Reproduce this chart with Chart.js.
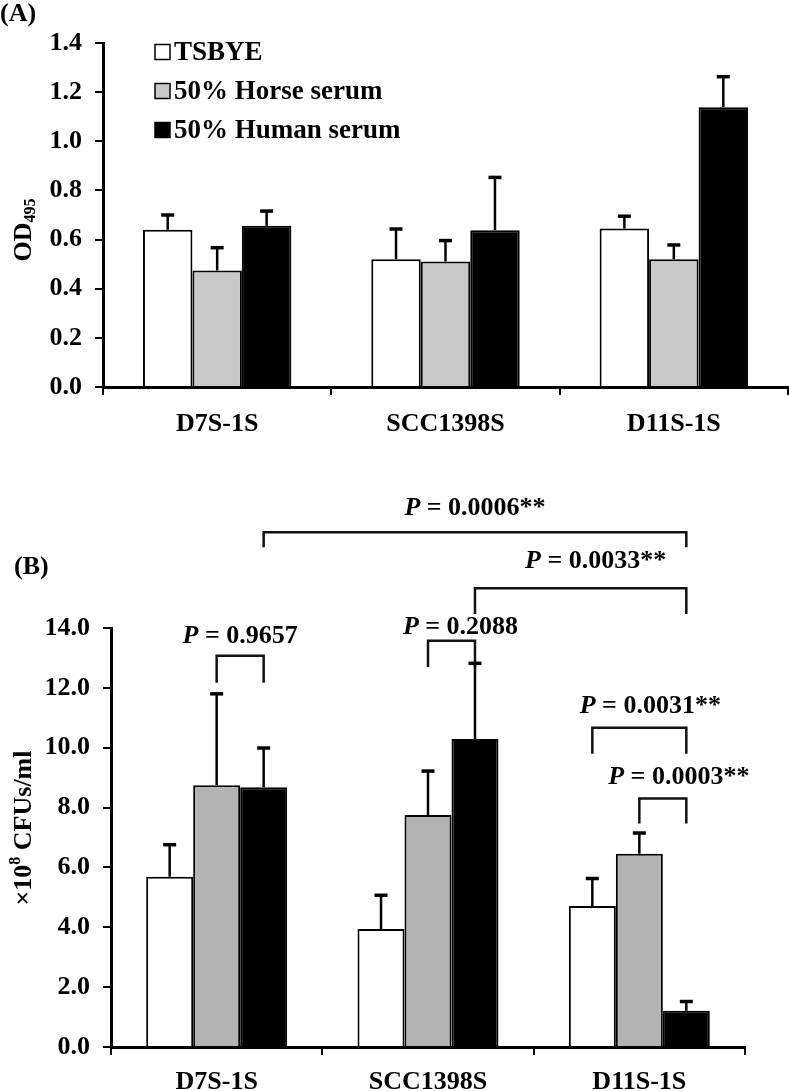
<!DOCTYPE html>
<html>
<head>
<meta charset="utf-8">
<script src="https://cdn.jsdelivr.net/npm/chart.js@4.4.0/dist/chart.umd.min.js"></script>
<style>
  html, body { margin: 0; padding: 0; background: #fff; }
  #wrapA { position: absolute; left: 0; top: 0; width: 789px; height: 450px; }
  #wrapB { position: absolute; left: 0; top: 450px; width: 789px; height: 641px; }
</style>
</head>
<body>
<div id="wrapA"><canvas id="chartA"></canvas></div>
<div id="wrapB"><canvas id="chartB"></canvas></div>
<script>
const strains = ["D7S-1S", "SCC1398S", "D11S-1S"];
const seriesNames = ["TSBYE", "50% Horse serum", "50% Human serum"];

// (A) biofilm, OD495
const odTsbye = [0.64, 0.52, 0.645];
const odTsbyeSd = [0.06, 0.123, 0.05];
const odHorse = [0.474, 0.511, 0.52];
const odHorseSd = [0.093, 0.085, 0.058];
const odHuman = [0.656, 0.638, 1.139];
const odHumanSd = [0.06, 0.215, 0.124];
const odTicks = [0, 0.2, 0.4, 0.6, 0.8, 1.0, 1.2, 1.4];

// (B) x10^8 CFUs/ml
const cfuTsbye = [5.69, 3.94, 4.71];
const cfuTsbyeSd = [1.07, 1.13, 0.92];
const cfuHorse = [8.75, 7.75, 6.46];
const cfuHorseSd = [3.05, 1.47, 0.69];
const cfuHuman = [8.68, 10.29, 1.21];
const cfuHumanSd = [1.31, 2.53, 0.31];
const cfuTicks = [0, 2, 4, 6, 8, 10, 12, 14];

// p-value brackets for (B): [dataset, category] ends, heights in y units
const pBrackets = [
  { p: "0.9657", stars: "", from: [1, 0], to: [2, 0], top: 13.07, leg: 12.17, textY: 13.73, dx: 0 },
  { p: "0.2088", stars: "", from: [1, 1], to: [2, 1], top: 13.57, leg: 12.7, textY: 14.02, dx: 9 },
  { p: "0.0006", stars: "**", from: [2, 0], to: [2, 2], top: 17.2, leg: 16.7, textY: 18.0, dx: 0 },
  { p: "0.0033", stars: "**", from: [2, 1], to: [2, 2], top: 15.33, leg: 14.47, textY: 16.23, dx: 15 },
  { p: "0.0031", stars: "**", from: [0, 2], to: [2, 2], top: 10.67, leg: 9.8, textY: 11.4, dx: 11 },
  { p: "0.0003", stars: "**", from: [1, 2], to: [2, 2], top: 8.3, leg: 7.47, textY: 9.0, dx: 16 }
];

const FAMILY = "'Liberation Serif', 'Times New Roman', serif";
const tickFont = { family: FAMILY, size: 26, weight: "bold" };

const errorBarPlugin = {
  id: "errorBars",
  afterDatasetsDraw(chart) {
    const ctx = chart.ctx;
    const y = chart.scales.y;
    chart.data.datasets.forEach((ds, i) => {
      const meta = chart.getDatasetMeta(i);
      meta.data.forEach((bar, j) => {
        const top = y.getPixelForValue(ds.data[j] + ds.errors[j]);
        ctx.save();
        ctx.strokeStyle = "#000";
        ctx.lineWidth = 2.5;
        ctx.beginPath();
        ctx.moveTo(bar.x, bar.y);
        ctx.lineTo(bar.x, top);
        ctx.stroke();
        ctx.lineWidth = 3.5;
        ctx.beginPath();
        ctx.moveTo(bar.x - 6.5, top);
        ctx.lineTo(bar.x + 6.5, top);
        ctx.stroke();
        ctx.restore();
      });
    });
  }
};

// panel letter, rotated y title, legend and brackets
function makeDecor(cfg) {
  return {
    id: "decor",
    afterDraw(chart) {
      const ctx = chart.ctx;
      ctx.save();
      ctx.fillStyle = "#000";
      ctx.textBaseline = "middle";
      ctx.textAlign = "left";
      ctx.font = "bold 26px " + FAMILY;
      ctx.fillText(cfg.panel, cfg.panelX, cfg.panelY);

      // y title with sub/superscript
      ctx.save();
      ctx.translate(cfg.titleX, cfg.titleY);
      ctx.rotate(-Math.PI / 2);
      let w = 0;
      cfg.title.forEach(part => {
        ctx.font = "bold " + part.size + "px " + FAMILY;
        w += ctx.measureText(part.text).width;
      });
      let x = -w / 2;
      cfg.title.forEach(part => {
        ctx.font = "bold " + part.size + "px " + FAMILY;
        ctx.fillText(part.text, x, part.shift);
        x += ctx.measureText(part.text).width;
      });
      ctx.restore();

      if (cfg.legend) {
        chart.data.datasets.forEach((ds, i) => {
          const ly = cfg.legendY + i * cfg.legendGap;
          ctx.fillStyle = ds.backgroundColor;
          ctx.fillRect(cfg.legendX, ly - 7.5, 15, 15);
          ctx.strokeStyle = "#000";
          ctx.lineWidth = 1.5;
          ctx.strokeRect(cfg.legendX, ly - 7.5, 15, 15);
          ctx.fillStyle = "#000";
          ctx.font = "bold 27px " + FAMILY;
          ctx.fillText(ds.label, cfg.legendX + 19, ly + 1);
        });
      }

      if (cfg.brackets) {
        const y = chart.scales.y;
        cfg.brackets.forEach(b => {
          const x1 = chart.getDatasetMeta(b.from[0]).data[b.from[1]].x;
          const x2 = chart.getDatasetMeta(b.to[0]).data[b.to[1]].x;
          const yt = y.getPixelForValue(b.top);
          const yl = y.getPixelForValue(b.leg);
          ctx.strokeStyle = "#111";
          ctx.lineWidth = 2.5;
          ctx.beginPath();
          ctx.moveTo(x1, yl);
          ctx.lineTo(x1, yt);
          ctx.lineTo(x2, yt);
          ctx.lineTo(x2, yl);
          ctx.stroke();

          const pFont = "italic bold 26px " + FAMILY;
          const restFont = "bold 26px " + FAMILY;
          const rest = " = " + b.p + b.stars;
          ctx.font = pFont;
          const wp = ctx.measureText("P").width;
          ctx.font = restFont;
          const wr = ctx.measureText(rest).width;
          const tx = (x1 + x2) / 2 + b.dx - (wp + wr) / 2;
          const ty = y.getPixelForValue(b.textY);
          ctx.fillStyle = "#000";
          ctx.font = pFont;
          ctx.fillText("P", tx, ty);
          ctx.font = restFont;
          ctx.fillText(rest, tx + wp, ty);
        });
      }
      ctx.restore();
    }
  };
}

function axisScales(ticksArr, yWidth, xHeight, xPad) {
  const axisGrid = { display: true, drawOnChartArea: false, drawTicks: true, tickLength: 8, color: "#000", lineWidth: 2 };
  return {
    x: {
      grid: Object.assign({ offset: true }, axisGrid),
      border: { display: true, color: "#000", width: 3 },
      ticks: { color: "#000", font: tickFont, padding: xPad },
      afterFit: s => { s.height = xHeight; }
    },
    y: {
      min: ticksArr[0],
      max: ticksArr[ticksArr.length - 1],
      afterBuildTicks: s => { s.ticks = ticksArr.map(v => ({ value: v })); },
      grid: axisGrid,
      border: { display: true, color: "#000", width: 3 },
      ticks: { color: "#000", font: tickFont, padding: 13, callback: v => Number(v).toFixed(1) },
      afterFit: s => { s.width = yWidth; }
    }
  };
}

function makeDatasets(a, aSd, b, bSd, c, cSd, grey) {
  return [
    { label: seriesNames[0], data: a, errors: aSd, backgroundColor: "#ffffff", borderColor: "#000", borderWidth: 2 },
    { label: seriesNames[1], data: b, errors: bSd, backgroundColor: grey, borderColor: "#000", borderWidth: 2 },
    { label: seriesNames[2], data: c, errors: cSd, backgroundColor: "#000000", borderColor: "#000", borderWidth: 2 }
  ];
}

new Chart(document.getElementById("chartA"), {
  type: "bar",
  data: {
    labels: strains,
    datasets: makeDatasets(odTsbye, odTsbyeSd, odHorse, odHorseSd, odHuman, odHumanSd, "#c8c8c8")
  },
  options: {
    responsive: true,
    maintainAspectRatio: false,
    animation: false,
    layout: { padding: { top: 43, right: 1, left: 0, bottom: 0 } },
    datasets: { bar: { categoryPercentage: 0.65, barPercentage: 1.0 } },
    plugins: { legend: { display: false }, tooltip: { enabled: false } },
    scales: axisScales(odTicks, 103, 63, 14)
  },
  plugins: [errorBarPlugin, makeDecor({
    panel: "(A)", panelX: 0, panelY: 14,
    title: [{ text: "OD", size: 26, shift: 0 }, { text: "495", size: 16, shift: 7 }],
    titleX: 24, titleY: 230,
    legend: true, legendX: 155, legendY: 52, legendGap: 39
  })]
});

new Chart(document.getElementById("chartB"), {
  type: "bar",
  data: {
    labels: strains,
    datasets: makeDatasets(cfuTsbye, cfuTsbyeSd, cfuHorse, cfuHorseSd, cfuHuman, cfuHumanSd, "#b3b3b3")
  },
  options: {
    responsive: true,
    maintainAspectRatio: false,
    animation: false,
    layout: { padding: { top: 178, right: 44, left: 0, bottom: 0 } },
    datasets: { bar: { categoryPercentage: 0.667, barPercentage: 1.0 } },
    plugins: { legend: { display: false }, tooltip: { enabled: false } },
    scales: axisScales(cfuTicks, 111, 44, 12)
  },
  plugins: [errorBarPlugin, makeDecor({
    panel: "(B)", panelX: 14, panelY: 117,
    title: [{ text: "\u00d710", size: 26, shift: 0 }, { text: "8", size: 16, shift: -8 }, { text: " CFUs/ml", size: 26, shift: 0 }],
    titleX: 24, titleY: 378,
    legend: false,
    brackets: pBrackets
  })]
});
</script>
</body>
</html>
